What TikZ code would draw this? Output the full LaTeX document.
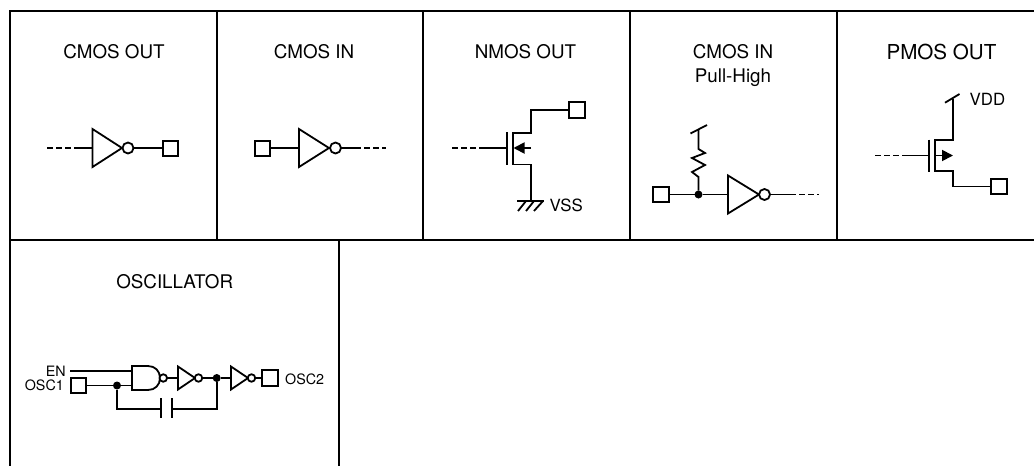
\documentclass[tikz,border=0pt]{standalone}
\usepackage{fontspec}
\setmainfont{TeX Gyre Heros}
\usetikzlibrary{arrows.meta}
\tikzset{
  wire/.style={line width=1.8pt,line join=miter},
  frameline/.style={line width=2.3pt},
  dashwire/.style={line width=1.6pt,dash pattern=on 6pt off 3pt},
  pad/.style={draw,line width=1.8pt,fill=white,minimum size=15.5pt,inner sep=0pt,outer sep=0pt},
  bub/.style={draw,circle,line width=1.8pt,inner sep=0pt,outer sep=0pt,fill=white},
  bigbub/.style={bub,minimum size=11pt},
  smallbub/.style={bub,minimum size=7.5pt},
  dot/.style={circle,fill=black,inner sep=0pt,outer sep=0pt,minimum size=8pt},
  title/.style={anchor=base,inner sep=0pt,font=\fontsize{18.8}{22}\selectfont},
  small/.style={anchor=base west,inner sep=0pt,font=\fontsize{16.8}{20}\selectfont},
  tiny/.style={anchor=base east,inner sep=0pt,font=\fontsize{14.3}{17}\selectfont},
  fet/.style={wire,-{Triangle[length=11pt,width=11pt]}}
}
\newcommand{\invgate}[5]{% name, left x, y, half height, length
  \draw[wire] (#2,#3-#4) -- (#2,#3+#4) -- (#2+#5,#3) -- cycle;
  \coordinate (#1in) at (#2,#3);
}
\begin{document}
\begin{tikzpicture}[x=1pt,y=-1pt]
\useasboundingbox (0,0) rectangle (1034,466);
% frame
\coordinate (tl) at (10,11); \coordinate (tr) at (1034,11);
\coordinate (ml) at (10,240); \coordinate (mr) at (1034,240);
\coordinate (bl) at (10,466);
\draw[frameline] (tr) -- (tl) -- (bl);
\draw[frameline] (ml) -- (mr);
\foreach \fx in {217,423,630,837} \draw[frameline] (\fx,11) -- (\fx,240);
\draw[line width=1.6pt] (339,240) -- (339,466);
% titles
\node[title] (t1) at (114,58.5) {CMOS OUT};
\node[title] (t2) at (314,58.5) {CMOS IN};
\node[title] (t3) at (525.5,58.5) {NMOS OUT};
\node[title] (t4) at (733,58.5) {CMOS IN};
\node[title] (t4b) at (733,82) {Pull-High};
\node[title,font=\fontsize{20.6}{24}\selectfont] (t5) at (941.5,59) {PMOS OUT};
\node[title] (t6) at (174.7,288.5) {OSCILLATOR};

% CMOS OUT
\coordinate (a0) at (47,148); \coordinate (a1) at (78,148);
\invgate{a}{92.5}{148}{19}{29.5}
\node[bigbub] (ab) at (128,148) {};
\node[pad] (as) at (170.5,148.5) {};
\draw[dashwire] (a0) -- (a1);
\draw[wire] (a1) -- (ain);
\draw[wire] (ab) -- (as.west |- ab);

% CMOS IN
\node[pad] (bs) at (262.5,148.5) {};
\invgate{b}{299}{148}{19}{30}
\node[bigbub] (bb) at (335.5,148) {};
\coordinate (b1) at (355,148); \coordinate (b2) at (386,148);
\draw[wire] (bs.east |- bb) -- (bin);
\draw[wire] (bb) -- (b1);
\draw[dashwire] (b1) -- (b2);

% NMOS OUT
\node[pad] (cs) at (577,110) {};
\coordinate (cd) at (531,110);
\coordinate (cdt) at (531,133); \coordinate (ctl) at (513,133);
\coordinate (cbl) at (513,164.5); \coordinate (cbr) at (531,164.5);
\coordinate (cg) at (531,201);
\draw[wire] (cs) -- (cd) -- (cdt) -- (ctl) -- (cbl) -- (cbr) -- (cg);
\coordinate (cp1) at (507,132); \coordinate (cp2) at (507,165);
\draw[wire] (cp1) -- (cp2);
\coordinate (c0) at (452,148); \coordinate (c1) at (484,148); \coordinate (cgt) at (507,148);
\draw[dashwire] (c0) -- (c1);
\draw[wire] (c1) -- (cgt);
\coordinate (cbody) at (531,148); \coordinate (cch) at (513.5,148);
\draw[fet] (cbody) -- (cch);
\coordinate (cg1) at (517,201); \coordinate (cg2) at (543.5,201);
\draw[wire] (cg1) -- (cg2);
\draw[wire] (526,201) -- (518,211) (534,201) -- (526,211) (543,201) -- (534,211);
\node[small] (vss) at (549.5,211.5) {VSS};

% CMOS IN pull-high
\node[pad] (ds) at (661,194.5) {};
\node[dot] (dj) at (698.5,194.5) {};
\invgate{d}{728}{194.5}{19}{31}
\node[bigbub] (db) at (764.5,194.5) {};
\coordinate (d1) at (790,194.5); \coordinate (d2) at (819,194.5);
\draw[wire] (ds) -- (dj) -- (din);
\draw[wire] (db) -- (d1);
\draw[dashwire] (d1) -- (d2);
\coordinate (dtop) at (698.5,129);
\coordinate (dsa) at (690.5,133.5); \coordinate (dsb) at (707,125);
\draw[wire] (dsa) -- (dsb);
\draw[wire,line join=miter] (dj) -- (698.5,177) -- (692,172) -- (705,165) -- (692,158) -- (705,153) -- (698.5,149) -- (dtop);

% PMOS OUT
\coordinate (ev) at (952.7,98.5);
\coordinate (esa) at (945,102.7); \coordinate (esb) at (959.5,94);
\draw[wire] (esa) -- (esb);
\node[small] (vdd) at (969.5,105) {VDD};
\node[pad] (es) at (999,186.5) {};
\coordinate (etr) at (952.7,140); \coordinate (etl) at (935,140);
\coordinate (ebl) at (935,171); \coordinate (ebr) at (952.7,171);
\coordinate (ed) at (952.7,186.5);
\draw[wire] (ev) -- (etr) -- (etl) -- (ebl) -- (ebr) -- (ed) -- (es);
\coordinate (ep1) at (929,139.5); \coordinate (ep2) at (929,172);
\draw[wire] (ep1) -- (ep2);
\coordinate (e0) at (875,155.5); \coordinate (e1) at (907,155.5); \coordinate (egt) at (929,155.5);
\draw[dashwire] (e0) -- (e1);
\draw[wire] (e1) -- (egt);
\coordinate (ech) at (935,155.5); \coordinate (ebody) at (953,155.5);
\draw[fet] (ech) -- (ebody);

% OSCILLATOR
\node[tiny] (en) at (66,376) {EN};
\node[tiny] (osc1) at (64,390.7) {OSC1};
\node[tiny,anchor=base west] (osc2) at (285,384) {OSC2};
\node[pad] (fs) at (78.5,385.5) {};
\node[pad] (gs) at (270,378) {};
\node[dot] (fj) at (117,385.5) {};
\node[dot] (gj) at (216.7,378) {};
\coordinate (fen) at (70,370.7); \coordinate (nen) at (132,370.7);
\coordinate (nin) at (132,385.5);
\draw[wire] (fen) -- (nen);
\draw[wire] (fs) -- (fj) -- (nin);
\draw[wire] (132,366) -- (148,366) .. controls (155,366) and (160,371) .. (160,378) .. controls (160,385) and (155,390) .. (148,390) -- (132,390) -- cycle;
\node[smallbub] (nb) at (163.3,378) {};
\invgate{h}{178}{378}{11.5}{17}
\node[smallbub] (hb) at (198.5,378) {};
\invgate{k}{231}{378}{11.5}{17}
\node[smallbub] (kb) at (251.5,378) {};
\draw[wire] (nb) -- (hin);
\draw[wire] (hb) -- (gj) -- (kin);
\draw[wire] (kb) -- (gs);
\coordinate (cap1) at (161,409); \coordinate (cap2) at (172,409);
\coordinate (fc) at (117,409); \coordinate (gc) at (216.7,409);
\draw[wire] (fj) -- (fc) -- (cap1);
\draw[wire] (gj) -- (gc) -- (cap2);
\draw[wire] (161,398) -- (161,418) (172,398) -- (172,418);
\end{tikzpicture}
\end{document}
